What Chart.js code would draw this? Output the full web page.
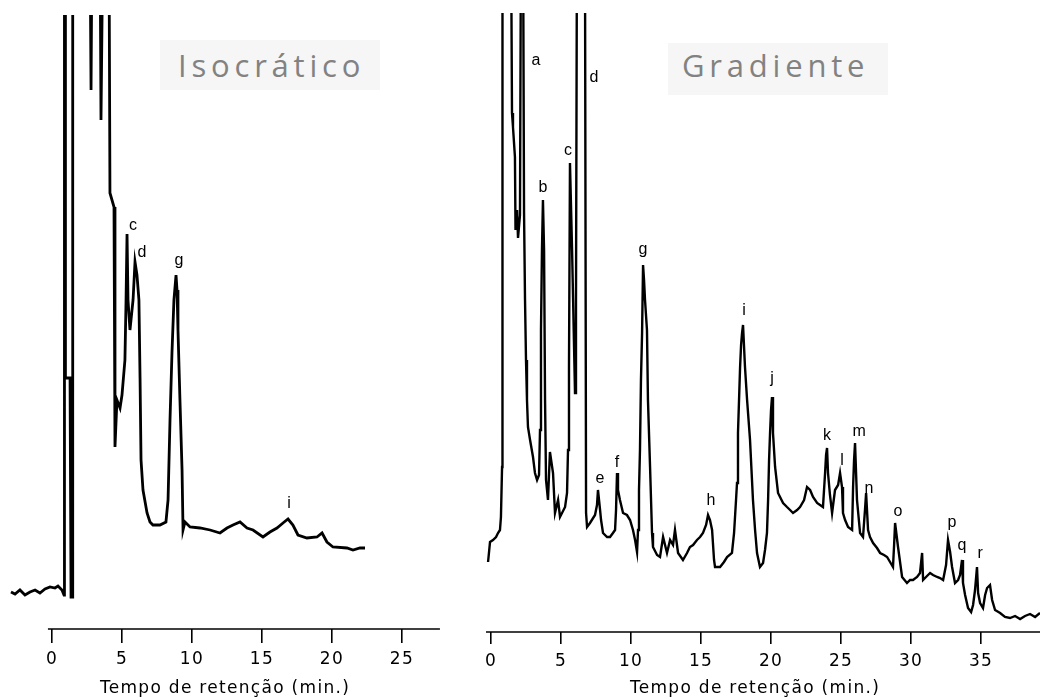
<!DOCTYPE html>
<html><head><meta charset="utf-8">
<script src="https://cdn.jsdelivr.net/npm/chart.js@4.4.1/dist/chart.umd.min.js"></script>
<style>
html,body{margin:0;padding:0;background:#fff;width:1040px;height:699px;overflow:hidden;}
.wrap{position:absolute;top:0;height:699px;}
#wrapL{left:0;width:450px;}
#wrapR{left:470px;width:570px;}
.tag{position:absolute;background:#f6f6f6;color:#828282;font-family:"Open Sans",sans-serif;font-size:31px;letter-spacing:4.8px;white-space:nowrap;}
#tagL{left:160px;top:40px;width:202px;height:50px;line-height:50px;padding-left:18px;}
#tagR{left:668px;top:43px;width:206px;height:52px;line-height:44px;padding-left:14px;}
</style></head>
<body>
<div class="wrap" id="wrapL"><canvas id="cL"></canvas></div>
<div class="wrap" id="wrapR"><canvas id="cR"></canvas></div>
<div class="tag" id="tagL">Isocrático</div>
<div class="tag" id="tagR">Gradiente</div>
<script>
// ---- Isocratic run (time in min, signal in arbitrary units; 70 = off-scale) ----
const isoTime = [-2.93,-2.64,-2.29,-1.93,-1.57,-1.21,-0.86,-0.5,-0.14,0.21,0.43,0.71,0.86,0.89,0.93,0.96,1.29,1.36,1.43,1.46,1.5,2.71,2.79,2.86,3.43,3.5,3.64,4.07,4.14,4.43,4.5,4.64,4.86,5.0,5.21,5.29,5.36,5.43,5.57,5.79,5.93,6.07,6.21,6.29,6.36,6.5,6.79,7.0,7.21,7.71,8.14,8.29,8.43,8.57,8.71,8.86,8.93,9.0,9.14,9.29,9.36,9.5,9.86,10.57,11.29,12.0,12.5,12.93,13.43,13.93,14.36,15.07,15.57,16.07,16.5,16.86,17.21,17.57,18.21,18.93,19.29,19.64,20.07,21.07,21.5,22.0,22.36];
const isoSignal = [3.7,3.5,3.9,3.4,3.7,3.9,3.6,4.0,4.2,4.1,4.3,3.9,3.4,70,70,25.1,25.1,3.2,3.2,70,70,70,53.9,70,70,50.9,70,70,43.6,42.2,18.2,22.9,22.1,23.4,26.9,32.9,39.5,32.9,29.9,32.9,36.7,35.4,32.9,25.1,16.9,13.9,11.6,10.7,10.4,10.4,10.7,12.9,20.9,27.6,32.9,35.4,33.9,29.9,22.9,15.9,9.9,10.7,10.2,10.1,9.9,9.6,10.1,10.4,10.7,10.1,9.9,9.2,9.7,10.1,10.6,11.0,10.4,9.4,9.1,9.2,9.6,8.7,8.2,8.1,7.9,8.1,8.1];
const isoTicks = [0,5,10,15,20,25];
const isoPeakNames = ['c','d','g','i'];
const isoPeakTime = [5.79,6.43,9.07,16.93];
const isoPeakSignal = [39.9,37.2,36.4,12.1];

// ---- Gradient run ----
const gradTime = [-0.21,-0.07,0.14,0.36,0.5,0.64,0.71,0.79,0.82,1.43,1.5,1.57,1.71,1.75,1.86,1.93,2.07,2.14,2.29,2.36,2.43,2.5,2.57,2.64,2.79,3.0,3.14,3.29,3.43,3.5,3.57,3.64,3.71,3.79,3.86,3.93,4.07,4.21,4.43,4.57,4.79,4.93,5.29,5.43,5.5,5.57,5.64,5.79,6.0,6.07,6.14,6.71,6.79,6.86,7.07,7.43,7.57,7.64,7.79,7.86,8.0,8.29,8.5,8.71,8.86,8.93,9.0,9.07,9.21,9.43,9.71,9.93,10.14,10.29,10.43,10.5,10.57,10.64,10.71,10.79,10.86,10.93,11.0,11.14,11.21,11.36,11.5,11.57,11.86,12.07,12.29,12.57,12.79,13.0,13.14,13.36,13.71,14.0,14.21,14.43,14.71,14.93,15.14,15.36,15.5,15.64,15.79,15.93,16.0,16.36,16.64,16.86,17.21,17.36,17.5,17.57,17.64,17.79,17.86,17.93,18.0,18.14,18.29,18.5,18.64,18.71,18.86,19.0,19.21,19.43,19.57,19.71,19.79,19.86,19.93,20.0,20.07,20.14,20.29,20.5,20.86,21.14,21.36,21.57,21.86,22.07,22.36,22.57,22.79,23.0,23.29,23.5,23.71,23.86,23.93,24.0,24.07,24.21,24.36,24.57,24.79,24.93,25.07,25.14,25.29,25.5,25.79,25.86,25.93,26.0,26.14,26.36,26.57,26.71,26.79,26.93,27.07,27.29,27.57,27.79,28.07,28.29,28.5,28.71,28.79,28.86,29.07,29.36,29.71,29.93,30.14,30.43,30.64,30.79,30.86,31.14,31.36,31.57,31.86,32.07,32.29,32.5,32.64,32.79,32.93,33.14,33.36,33.5,33.64,33.71,33.86,34.07,34.29,34.43,34.57,34.71,34.79,34.93,35.14,35.29,35.43,35.64,35.79,36.0,36.36,36.71,37.07,37.43,37.79,38.14,38.5,38.86,39.21];
const gradSignal = [7.0,9.0,9.2,9.5,9.9,10.2,11.5,16.5,70,70,51.9,50.5,47.5,40.2,42.2,39.4,41.7,70,70,41.9,33.2,27.2,23.2,20.5,19.2,17.5,15.9,15.2,15.7,20.2,30.2,38.2,43.2,38.2,23.2,15.2,13.2,18.0,15.9,11.9,13.2,11.5,12.5,13.9,18.2,26.5,46.9,38.2,23.9,33.2,70,70,11.9,10.5,10.9,11.7,12.7,14.2,12.2,11.2,9.9,9.5,9.5,9.9,10.2,12.2,15.9,14.2,13.2,11.9,11.7,11.2,10.2,9.2,8.0,10.2,14.2,18.2,25.2,29.9,36.7,35.2,33.2,30.2,23.2,16.5,9.9,8.5,7.7,7.5,9.5,7.9,9.2,8.7,10.2,7.9,7.2,7.9,8.5,8.7,9.2,9.5,9.9,10.7,11.7,11.2,10.2,7.2,6.5,6.5,7.0,7.5,7.9,9.9,13.2,14.9,19.9,26.5,28.7,29.9,30.7,26.5,23.2,19.2,15.2,13.2,10.2,7.9,6.5,6.9,8.2,9.9,13.2,17.2,19.9,22.2,23.5,19.9,16.5,13.9,12.9,12.5,12.2,11.9,12.2,12.5,13.2,14.5,14.2,13.5,12.9,12.7,12.5,15.9,17.7,18.4,15.9,13.7,11.9,14.2,14.7,15.9,14.5,11.9,11.2,10.5,10.2,14.5,17.2,18.9,13.2,9.9,9.5,12.2,13.9,10.2,9.5,8.9,8.4,7.9,7.7,7.5,7.0,6.5,8.7,10.9,8.5,5.5,4.9,5.2,5.2,5.5,5.9,7.9,5.2,5.6,5.9,5.7,5.5,5.4,5.2,6.7,9.2,8.0,6.5,4.9,5.2,5.7,7.2,4.9,3.7,2.4,2.0,2.7,4.2,6.5,3.9,2.9,2.4,3.7,4.4,4.7,3.2,2.2,1.9,1.5,1.4,1.6,1.3,1.6,1.8,1.5,1.9];
const gradTicks = [0,5,10,15,20,25,30,35];
const gradPeakNames = ['a','b','c','d','e','f','g','h','i','j','k','l','m','n','o','p','q','r'];
const gradPeakTime = [3.21,3.71,5.5,7.36,7.79,9.0,10.86,15.71,18.07,20.07,24.0,25.07,26.29,27.0,29.07,32.93,33.64,34.93];
const gradPeakSignal = [56.7,44.0,47.7,55.0,14.9,16.5,37.8,12.7,31.7,24.9,19.2,16.7,19.6,13.9,11.6,10.5,8.2,7.4];

const axisTitle = 'Tempo de retenção (min.)';

const spacingPlugin = {
  id: 'spacing',
  beforeDraw(chart, args, o) { chart.ctx.letterSpacing = o.value || '0px'; }
};
const axisLinePlugin = {
  id: 'axisLine',
  afterDraw(chart, args, o) {
    const xs = chart.scales.x, y = chart.chartArea.bottom, ctx = chart.ctx;
    ctx.save();
    ctx.strokeStyle = '#000'; ctx.lineWidth = o.width;
    ctx.beginPath();
    ctx.moveTo(xs.getPixelForValue(o.from), y);
    ctx.lineTo(xs.getPixelForValue(o.to), y);
    ctx.stroke();
    ctx.restore();
  }
};
const peakLabelPlugin = {
  id: 'peakLabels',
  afterDatasetsDraw(chart, args, o) {
    const xs = chart.scales.x, ys = chart.scales.y, ctx = chart.ctx;
    ctx.save();
    ctx.letterSpacing = '0px';
    ctx.fillStyle = '#000';
    ctx.font = o.font;
    ctx.textAlign = 'center';
    ctx.textBaseline = 'alphabetic';
    o.names.forEach((n, i) => {
      ctx.fillText(n, xs.getPixelForValue(o.times[i]), ys.getPixelForValue(o.signals[i]));
    });
    ctx.restore();
  }
};

function makeChart(id, cfg) {
  return new Chart(document.getElementById(id), {
    type: 'line',
    data: {
      datasets: [{
        data: cfg.time.map((t, i) => ({ x: t, y: cfg.signal[i] })),
        borderColor: '#000',
        borderWidth: cfg.lineWidth,
        pointRadius: 0,
        tension: 0,
        fill: false
      }]
    },
    options: {
      responsive: true,
      maintainAspectRatio: false,
      animation: false,
      devicePixelRatio: 1,
      events: [],
      layout: { padding: { top: cfg.top, bottom: 0, left: 0, right: 0 } },
      plugins: {
        legend: { display: false },
        tooltip: { enabled: false },
        spacing: { value: cfg.spacing },
        axisLine: { from: cfg.axisFrom, to: cfg.axisTo, width: 1.6 },
        peakLabels: { names: cfg.names, times: cfg.peakTime, signals: cfg.peakSignal, font: '16px "Liberation Sans"' }
      },
      scales: {
        x: {
          type: 'linear',
          min: cfg.xMin, max: cfg.xMax,
          afterBuildTicks: s => { s.ticks = cfg.ticks.map(v => ({ value: v })); },
          afterFit: s => { s.height = cfg.axisHeight; },
          border: { display: false },
          grid: { display: true, drawOnChartArea: false, drawTicks: true, tickLength: cfg.tickLen, color: '#000', lineWidth: 1.6 },
          ticks: { color: '#000', font: { family: 'DejaVu Sans', size: 17 }, padding: cfg.tickPad, maxRotation: 0, autoSkip: false },
          title: { display: true, text: axisTitle, color: '#000', font: { family: 'DejaVu Sans', size: 17 }, padding: { top: 0, bottom: 0 } }
        },
        y: { display: false, min: 0, max: cfg.yMax }
      }
    },
    plugins: [spacingPlugin, axisLinePlugin, peakLabelPlugin]
  });
}

makeChart('cL', {
  time: isoTime, signal: isoSignal, ticks: isoTicks,
  names: isoPeakNames, peakTime: isoPeakTime, peakSignal: isoPeakSignal,
  xMin: -3.714, xMax: 28.43, yMax: 61.4, top: 15, axisHeight: 70,
  axisFrom: -0.29, axisTo: 27.71, tickLen: 14, tickPad: 6,
  spacing: '1.3px', lineWidth: 2.8
});
makeChart('cR', {
  time: gradTime, signal: gradSignal, ticks: gradTicks,
  names: gradPeakNames, peakTime: gradPeakTime, peakSignal: gradPeakSignal,
  xMin: -1.5, xMax: 39.21, yMax: 61.9, top: 13, axisHeight: 67,
  axisFrom: -0.36, axisTo: 39.21, tickLen: 12, tickPad: 7,
  spacing: '1.3px', lineWidth: 2.4
});
</script>
</body></html>
